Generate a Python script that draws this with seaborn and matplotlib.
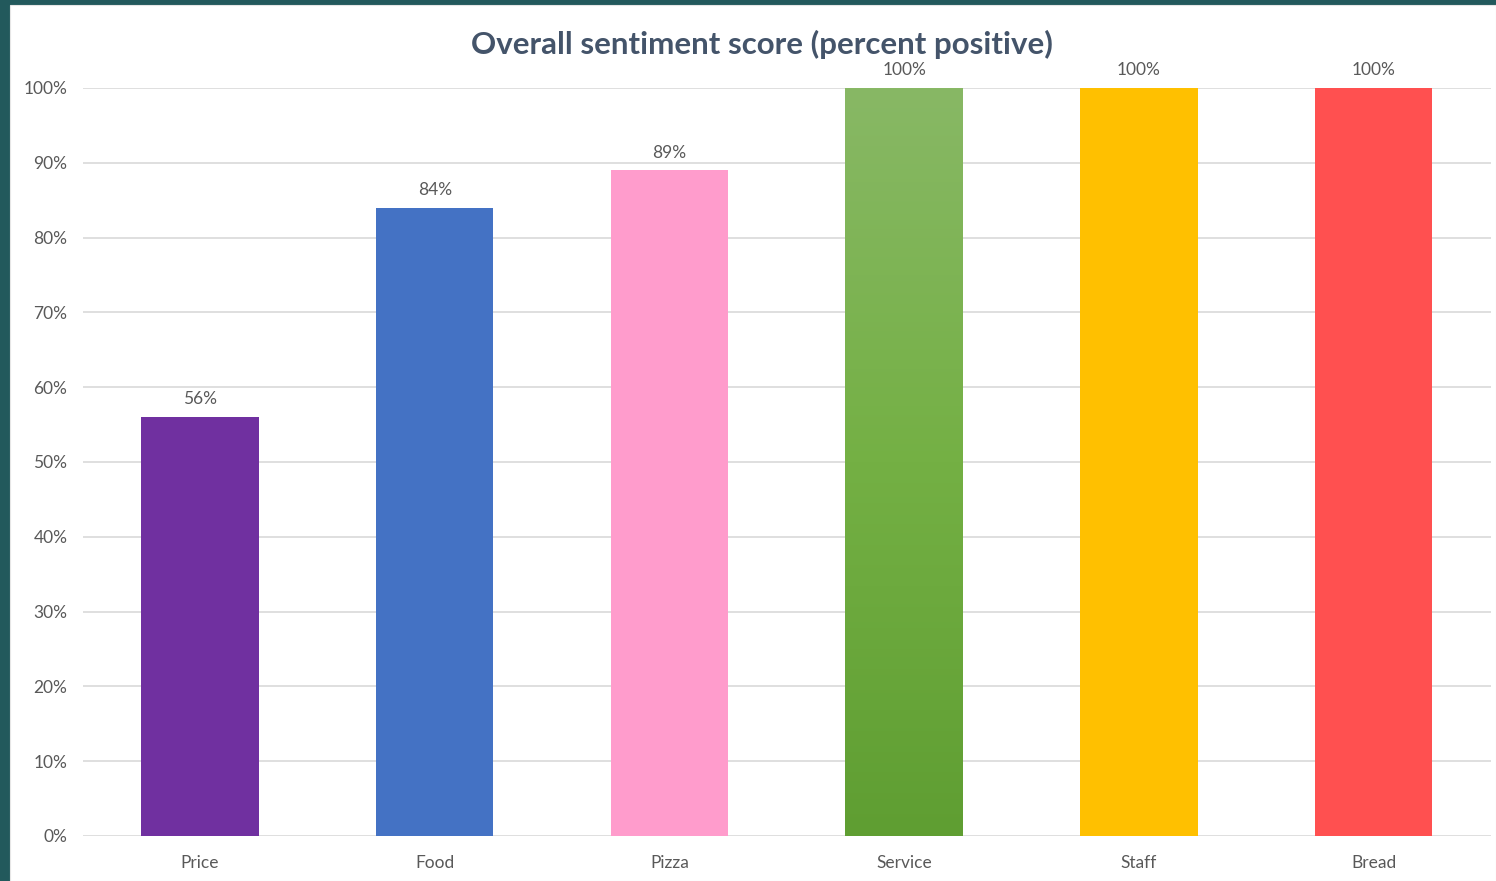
import matplotlib
matplotlib.use("Agg")
import matplotlib.pyplot as plt
import seaborn as sns
import numpy as np
import pandas as pd
from matplotlib.patches import Rectangle
from matplotlib.colors import LinearSegmentedColormap

categories = ["Price", "Food", "Pizza", "Service", "Staff", "Bread"]
values = [0.56, 0.84, 0.89, 1.00, 1.00, 1.00]
bar_colors = ["#7030a0", "#4472c4", "#ff9ccc", "#6fae43", "#ffc000", "#ff5050"]
yticks = [0.0, 0.1, 0.2, 0.3, 0.4, 0.5, 0.6, 0.7, 0.8, 0.9, 1.0]
title = "Overall sentiment score (percent positive)"

sns.set_style("white")
plt.rcParams['font.family'] = ['Lato', 'DejaVu Sans']

df = pd.DataFrame({"cat": categories, "val": values})

W, H = 1496, 881
fig = plt.figure(figsize=(W / 100, H / 100), dpi=100)
fig.patch.set_facecolor("#22595c")
# white slide area
fig.patches.append(Rectangle((10 / W, 0), 1 - 10 / W, 1 - 5 / H, transform=fig.transFigure,
                             facecolor="white", edgecolor="#e6e6e6", linewidth=0.8, zorder=-10))

ax = fig.add_axes([82.6 / W, 1 - 836 / H, (1491 - 82.6) / W, (836 - 88) / H])
ax.set_facecolor("none")
ax.set_zorder(1)

sns.barplot(data=df, x="cat", y="val", hue="cat", palette=bar_colors, width=0.5,
            legend=False, ax=ax, saturation=1, zorder=3, linewidth=0)

# gradient for Service bar
grad_cmap = LinearSegmentedColormap.from_list("g", ["#5f9e32", "#74b044", "#88b865"])
for p, cat in zip(ax.patches, categories):
    if cat == "Service":
        x0, y0 = p.get_x(), p.get_y()
        w, h = p.get_width(), p.get_height()
        grad = np.linspace(0, 1, 256).reshape(-1, 1)
        im = ax.imshow(grad, extent=[x0, x0 + w, y0, y0 + h], origin="lower",
                       cmap=grad_cmap, aspect="auto", zorder=4)
        im.set_clip_path(p)

ax.set_xlim(-0.5, len(categories) - 0.5)
ax.set_ylim(0, 1.0)
ax.set_yticks(yticks)
ax.set_yticklabels([f"{int(round(t * 100))}%" for t in yticks])
ax.yaxis.grid(True, color="#d9d9d9", linewidth=1.2, zorder=0)
ax.set_axisbelow(True)
for s in ax.spines.values():
    s.set_visible(False)
ax.tick_params(axis="y", length=0, pad=11, labelsize=12.5, labelcolor="#595959")
ax.tick_params(axis="x", length=0, pad=14, labelsize=12.5, labelcolor="#595959")
ax.set_xlabel("")
ax.set_ylabel("")

for i, v in enumerate(values):
    ax.annotate(f"{int(round(v * 100))}%", (i, v), xytext=(0, 7), textcoords="offset points",
                ha="center", va="bottom", fontsize=12.5, color="#595959", annotation_clip=False)

fig.text(762 / W, 1 - 44 / H, title, ha="center", va="center", fontsize=22.5,
         fontweight="bold", color="#44546a")

fig.savefig("out.png", dpi=100, facecolor=fig.get_facecolor())
